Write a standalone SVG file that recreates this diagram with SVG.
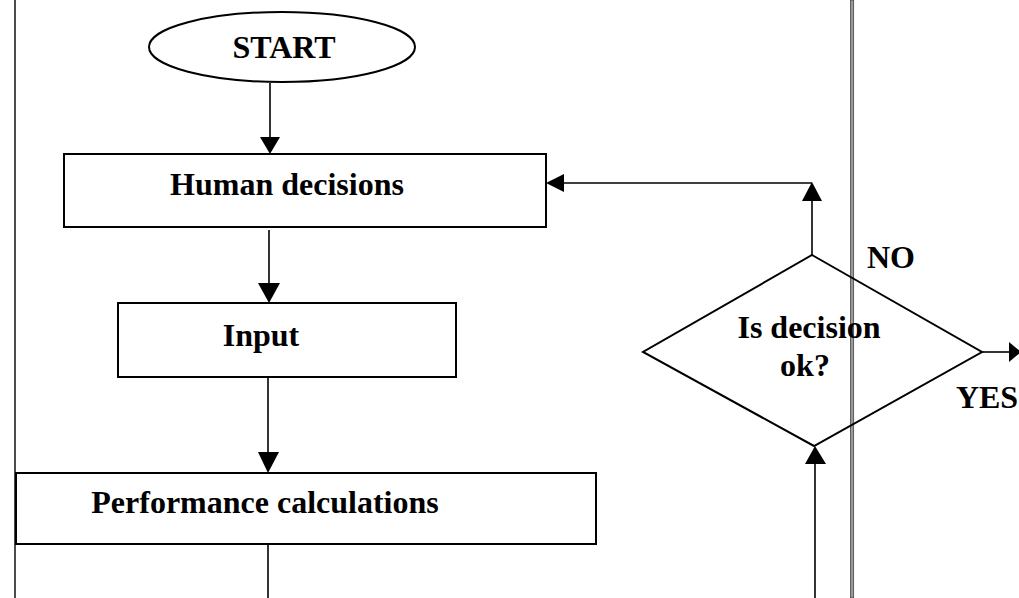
<svg xmlns="http://www.w3.org/2000/svg" width="1019" height="598" viewBox="0 0 1019 598">
<style>
.box{fill:none;stroke:#000;stroke-width:2}
.ln{fill:none;stroke:#000;stroke-width:1.6}
.t{font-family:"Liberation Serif","Times New Roman",serif;font-weight:bold;font-size:32px;fill:#000}
.ah{fill:#000}
</style>
<rect width="1019" height="598" fill="#fff"/>
<line x1="15" y1="0" x2="15" y2="598" stroke="#000" stroke-width="1.4"/>
<rect x="850.5" y="0" width="3.2" height="598" fill="#999" stroke="#333" stroke-width="0.7"/>
<g id="connectors">
  <line class="ln" x1="270" y1="83" x2="270" y2="140"/>
  <polygon class="ah" points="260,137 280,137 270,154"/>
  <line class="ln" x1="269" y1="230" x2="269" y2="286"/>
  <polygon class="ah" points="258,283 280,283 269,303"/>
  <line class="ln" x1="268" y1="377" x2="268" y2="455"/>
  <polygon class="ah" points="258,452 279,452 268,473"/>
  <line class="ln" x1="268" y1="544" x2="268" y2="598"/>
  <line class="ln" x1="815" y1="598" x2="815" y2="462"/>
  <polygon class="ah" points="805,464 826,464 815,446"/>
  <line class="ln" x1="812" y1="255" x2="812" y2="198"/>
  <polygon class="ah" points="802,201 822,201 812,182"/>
  <line class="ln" x1="812" y1="183" x2="560" y2="183"/>
  <polygon class="ah" points="564,174 564,192 546,183"/>
  <line class="ln" x1="982" y1="352" x2="1012" y2="352"/>
  <polygon class="ah" points="1009,342 1009,362 1021,352"/>
</g>
<g id="start">
  <ellipse cx="282" cy="47" rx="133" ry="35" class="box"/>
  <text class="t" x="284" y="58" text-anchor="middle">START</text>
</g>
<g id="human">
  <rect x="64" y="154" width="482" height="73" class="box"/>
  <text class="t" x="287" y="195" text-anchor="middle">Human decisions</text>
</g>
<g id="input">
  <rect x="118" y="303" width="338" height="74" class="box"/>
  <text class="t" x="261" y="346" text-anchor="middle">Input</text>
</g>
<g id="performance">
  <rect x="16" y="473" width="580" height="71" class="box"/>
  <text class="t" x="265" y="513" text-anchor="middle">Performance calculations</text>
</g>
<g id="decision">
  <polygon points="812,255 982,352 814,446 643,352" class="box"/>
  <text class="t" x="809" y="338" text-anchor="middle">Is decision</text>
  <text class="t" x="805" y="376" text-anchor="middle">ok?</text>
</g>
<g id="labels">
  <text class="t" x="891" y="268" text-anchor="middle">NO</text>
  <text class="t" x="987" y="408" text-anchor="middle">YES</text>
</g>
</svg>
